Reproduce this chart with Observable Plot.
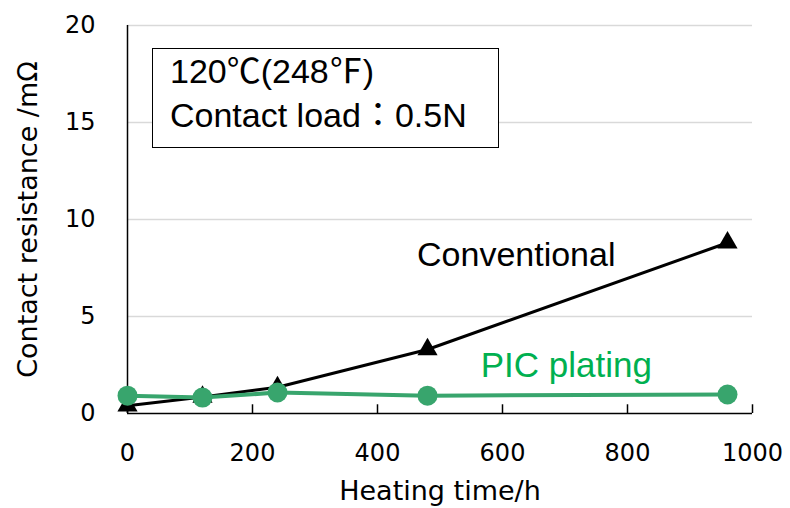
<!DOCTYPE html>
<html><head><meta charset="utf-8">
<script src="https://cdn.jsdelivr.net/npm/d3@7"></script>
<script src="https://cdn.jsdelivr.net/npm/@observablehq/plot@0.6"></script>
<style>
body{margin:0;background:#fff;}
#wrap{position:relative;width:790px;height:508px;}
#box{position:absolute;left:152px;top:48px;width:347px;height:100px;border:1.5px solid #000;background:#fff;
 font-family:"Liberation Sans",Arial,"Noto Sans CJK JP",sans-serif;font-size:34px;line-height:44px;padding:0 0 0 17px;box-sizing:border-box;color:#000;white-space:nowrap;}
#wrap svg [aria-label="x-axis tick label"], #wrap svg [aria-label="y-axis tick label"]{font-size:24px;}
#wrap svg [aria-label="x-axis label"], #wrap svg [aria-label="y-axis label"]{font-size:27px;}
</style></head>
<body><div id="wrap"></div>
<script>
const hours = [0, 120, 240, 480, 960];
const conventional = [0.4, 0.85, 1.35, 3.3, 8.8];
const picPlating = [0.92, 0.82, 1.08, 0.92, 0.98];
const xTicks = [0, 200, 400, 600, 800, 1000];
const yTicks = [0, 5, 10, 15, 20];
const gridTicks = [5, 10, 15, 20];
const seriesLabels = [
  {text: "Conventional", x: 622, y: 8.14, color: "#000000", size: 34},
  {text: "PIC plating", x: 702, y: 2.45, color: "#00B050", size: 35}
];
const infoLines = ["120℃(248℉)", "Contact load：0.5N"];

const conv = hours.map((h, i) => ({h, v: conventional[i]}));
const pic = hours.map((h, i) => ({h, v: picPlating[i]}));

const chart = Plot.plot({
  width: 790, height: 508,
  marginLeft: 127, marginRight: 38, marginTop: 25, marginBottom: 95,
  style: {fontFamily: "'DejaVu Sans', sans-serif", fontSize: "24px", color: "#000", background: "#fff", overflow: "visible"},
  x: {domain: [0, 1000]},
  y: {domain: [0, 20]},
  marks: [
    Plot.ruleY(gridTicks, {stroke: "#d9d9d9", strokeWidth: 1.3}),
    Plot.ruleX([0], {stroke: "#000", strokeWidth: 1.5}),
    Plot.ruleY([0], {stroke: "#000", strokeWidth: 1.5}),
    Plot.ruleX(xTicks, {y1: 0, y2: 0.45, stroke: "#000", strokeWidth: 1.5}),
    Plot.axisX({ticks: xTicks, tickFormat: d => String(d), tickSize: 0, tickPadding: 30, label: "Heating time/h", labelAnchor: "center", labelOffset: 86, labelArrow: false}),
    Plot.axisY({ticks: yTicks, tickFormat: d => String(d), tickSize: 0, tickPadding: 32, label: "Contact resistance /mΩ", labelAnchor: "center", labelOffset: 110, labelArrow: false}),
    Plot.line(conv, {x: "h", y: "v", stroke: "#000", strokeWidth: 3}),
    Plot.dot(conv, {x: "h", y: "v", symbol: "triangle", r: 7.5, fill: "#000"}),
    Plot.line(pic, {x: "h", y: "v", stroke: "#38A56D", strokeWidth: 4}),
    Plot.dot(pic, {x: "h", y: "v", r: 10, fill: "#38A56D"}),
    Plot.text(seriesLabels.slice(0, 1), {x: "x", y: "y", text: "text", fill: "color", fontSize: seriesLabels[0].size, fontFamily: "'Liberation Sans', Arial, sans-serif"}),
    Plot.text(seriesLabels.slice(1), {x: "x", y: "y", text: "text", fill: "color", fontSize: seriesLabels[1].size, fontFamily: "'Liberation Sans', Arial, sans-serif"})
  ]
});
const wrap = document.getElementById("wrap");
wrap.appendChild(chart);
const box = document.createElement("div");
box.id = "box";
box.innerHTML = infoLines.map(t => `<div>${t}</div>`).join("");
wrap.appendChild(box);
</script></body></html>
